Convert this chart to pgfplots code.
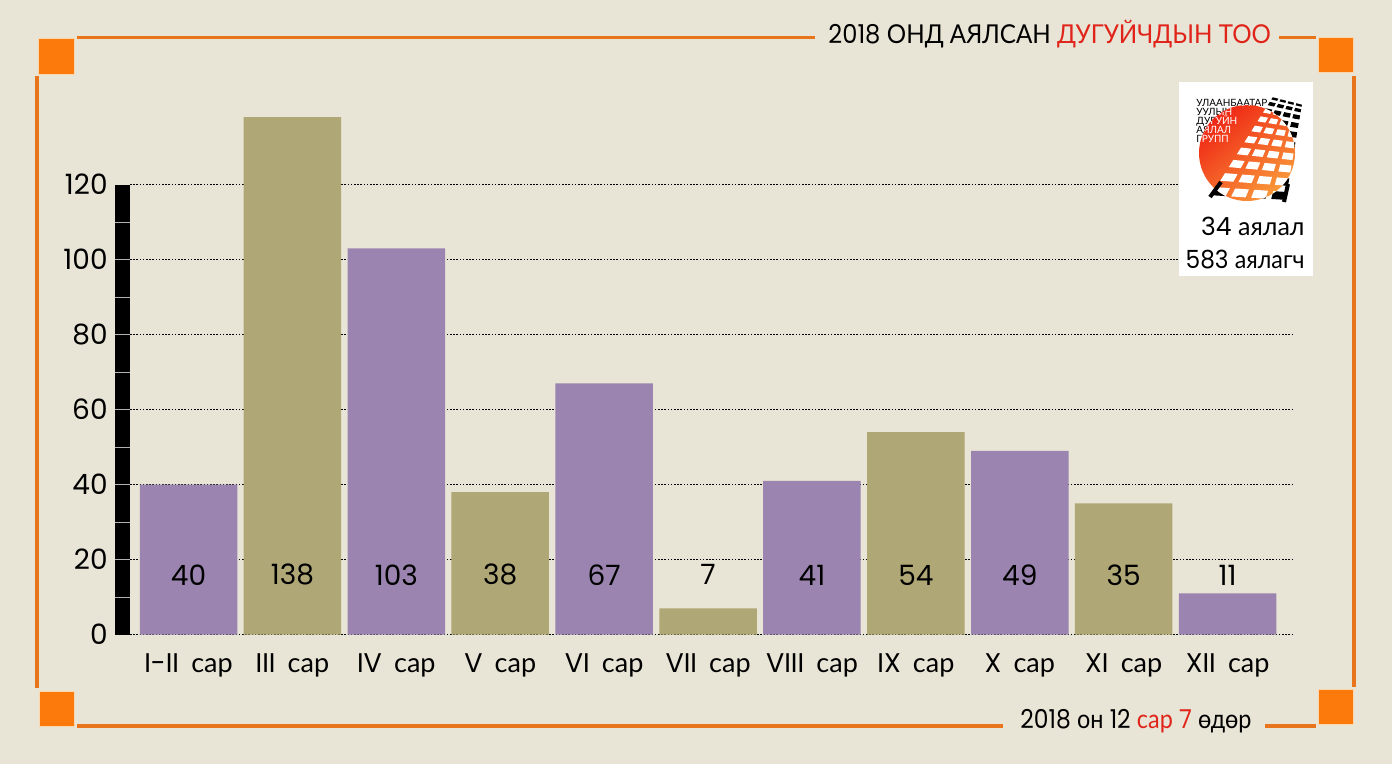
\documentclass[border=0pt]{standalone}
\usepackage{pgfplots}
\pgfplotsset{compat=1.18}
\usepackage{pgfplotstable}
\usepackage{fontspec}
\setmainfont{Poppins}
\newfontfamily\cyr{Lato}
\definecolor{bg}{RGB}{232,229,214}
\definecolor{purp}{RGB}{155,133,176}
\definecolor{oliv}{RGB}{176,167,118}
\definecolor{org}{RGB}{252,122,12}
\definecolor{orgline}{RGB}{232,117,28}
\definecolor{tred}{RGB}{224,36,26}
\definecolor{lred}{RGB}{238,30,18}
\definecolor{lorange}{RGB}{250,160,60}

\pgfplotstableread{
x v
0 40
2 103
4 67
6 41
8 49
10 11
}\purpdata
\pgfplotstableread{
x v
1 138
3 38
5 7
7 54
9 35
}\olivdata
\pgfplotstableread{
x v
0 40
1 138
2 103
3 38
4 67
5 7
6 41
7 54
8 49
9 35
10 11
}\alldata

% road: left edge (1208,195)->(1272,96), right edge (1288,200)->(1303,104)
\newcommand\tiles[1]{%
\foreach \k in {0,...,9}{%
  \pgfmathsetmacro\ta{1-(1-\k/10)^1.5}%
  \pgfmathsetmacro\tb{1-(1-(\k+0.55)/10)^1.5}%
  \foreach \sa/\sb in {0.04/0.22,0.29/0.47,0.54/0.72,0.79/0.97}{%
    \coordinate (p1) at ({(1-\sa)*(1208+64*\ta)+\sa*(1288+15*\ta)},{(1-\sa)*(195-99*\ta)+\sa*(200-96*\ta)});
    \coordinate (p2) at ({(1-\sb)*(1208+64*\ta)+\sb*(1288+15*\ta)},{(1-\sb)*(195-99*\ta)+\sb*(200-96*\ta)});
    \coordinate (p3) at ({(1-\sb)*(1208+64*\tb)+\sb*(1288+15*\tb)},{(1-\sb)*(195-99*\tb)+\sb*(200-96*\tb)});
    \coordinate (p4) at ({(1-\sa)*(1208+64*\tb)+\sa*(1288+15*\tb)},{(1-\sa)*(195-99*\tb)+\sa*(200-96*\tb)});
    \fill[#1] (p1)--(p2)--(p3)--(p4)--cycle;
  }%
}}
\newcommand\logotext[1]{%
  \begin{scope}[every node/.style={anchor=base west, inner sep=0pt, text=#1, font=\cyr\fontsize{5bp}{6bp}\selectfont}]
  \node at (1196,106) {УЛААНБААТАР};
  \node at (1196,115) {УУЛЫН};
  \node at (1196,124) {ДУГУЙН};
  \node at (1196,133) {АЯЛАЛ};
  \node at (1196,142) {ГРУПП};
  \end{scope}}

\begin{document}
\begin{tikzpicture}[x=0.5bp,y=-0.5bp]
\fill[bg] (0,0) rectangle (1392,764);
% frame
\begin{scope}[orgline, line width=1.6bp]
\draw (37,76) -- (37,688);
\draw (1354,76) -- (1354,687);
\draw (77,37.5) -- (815,37.5);
\draw (1279,37.5) -- (1316,37.5);
\draw (77,726) -- (1003,726);
\draw (1265,726) -- (1316,726);
\end{scope}
\begin{scope}[fill=org, draw={rgb,255:red,250;green,215;blue,175}, line width=0.5bp]
\filldraw (38,38) rectangle (74,74);
\filldraw (1318,37) rectangle (1353,72);
\filldraw (39,691) rectangle (74,726);
\filldraw (1318,689) rectangle (1353,724);
\end{scope}
% title
\node[anchor=base west, inner sep=0pt, font=\fontsize{13bp}{15bp}\selectfont] at (828,43)
  {\scalebox{0.93}[1]{2018 {\cyr ОНД АЯЛСАН \textcolor{tred}{ДУГУЙЧДЫН ТОО}}}};
% date
\node[anchor=base west, inner sep=0pt, font=\fontsize{13bp}{15bp}\selectfont] at (1020,728)
  {\scalebox{0.9}[1]{2018 {\cyr он} 12 \textcolor{tred}{{\cyr сар} 7} {\cyr өдөр}}};

\begin{axis}[
  at={(65bp,-317.25bp)}, anchor=south west,
  scale only axis, width=581bp, height=262.5bp,
  xmin=-0.563, xmax=10.62, ymin=0, ymax=140,
  axis line style={draw=none},
  major tick style={draw=none},
  ytick={0,20,...,120},
  ymajorgrids,
  grid style={black, line width=0.6bp, dash pattern=on 0.8bp off 0.8bp},
  xtick={0,...,10},
  xticklabels={{I-II\hspace{0.45em}{\cyr сар}},{III\hspace{0.45em}{\cyr сар}},{IV\hspace{0.45em}{\cyr сар}},{V\hspace{0.45em}{\cyr сар}},{VI\hspace{0.45em}{\cyr сар}},{VII\hspace{0.45em}{\cyr сар}},{VIII\hspace{0.45em}{\cyr сар}},{IX\hspace{0.45em}{\cyr сар}},{X\hspace{0.45em}{\cyr сар}},{XI\hspace{0.45em}{\cyr сар}},{XII\hspace{0.45em}{\cyr сар}}},
  /pgf/number format/assume math mode=true,
  yticklabel style={font=\fontsize{14bp}{16bp}\selectfont, anchor=east, inner sep=0pt, xshift=-11bp},
  xticklabel style={font=\fontsize{13.5bp}{16bp}\selectfont, anchor=base, inner sep=0pt, yshift=-18.75bp},
  clip=false,
]
\addplot[ybar, bar width=48.75bp, bar shift=0pt, fill=purp, draw=none] table[x=x,y=v]{\purpdata};
\addplot[ybar, bar width=48.75bp, bar shift=0pt, fill=oliv, draw=none] table[x=x,y=v]{\olivdata};
\addplot[draw=none, mark=none, nodes near coords, point meta=explicit,
  every node near coord/.style={font=\fontsize{14bp}{16bp}\selectfont, anchor=center, text=black, inner sep=0pt}]
  table[x=x, y expr=15.9, meta=v]{\alldata};
\end{axis}

% black y bar
\fill[black] (115,634.5) rectangle (130,184.5);
\foreach \k in {1,...,11}{
  \draw[gray!60!white, line width=0.5bp] (115,634.5-37.5*\k) -- (130,634.5-37.5*\k);
}

% logo box
\fill[white] (1179,82) rectangle (1313,276);
\logotext{black}
\tiles{black}
\begin{scope}
\clip (1247,153) circle (48);
\shade[top color=lred, middle color=lred, bottom color=lorange, shading angle=40] (1190,100) rectangle (1305,205);
\tiles{white}
\logotext{white}
\end{scope}
\draw[black, line width=2bp] (1210,197) -- (1221,182);
\draw[black, line width=2bp] (1284,202) -- (1288,184);
\node[anchor=base east, inner sep=0pt, font=\fontsize{12.5bp}{14bp}\selectfont] at (1305,235) {34 {\cyr аялал}};
\node[anchor=base east, inner sep=0pt, font=\fontsize{12.5bp}{14bp}\selectfont] at (1305,268) {\scalebox{0.93}[1]{583 {\cyr аялагч}}};
\end{tikzpicture}
\end{document}
